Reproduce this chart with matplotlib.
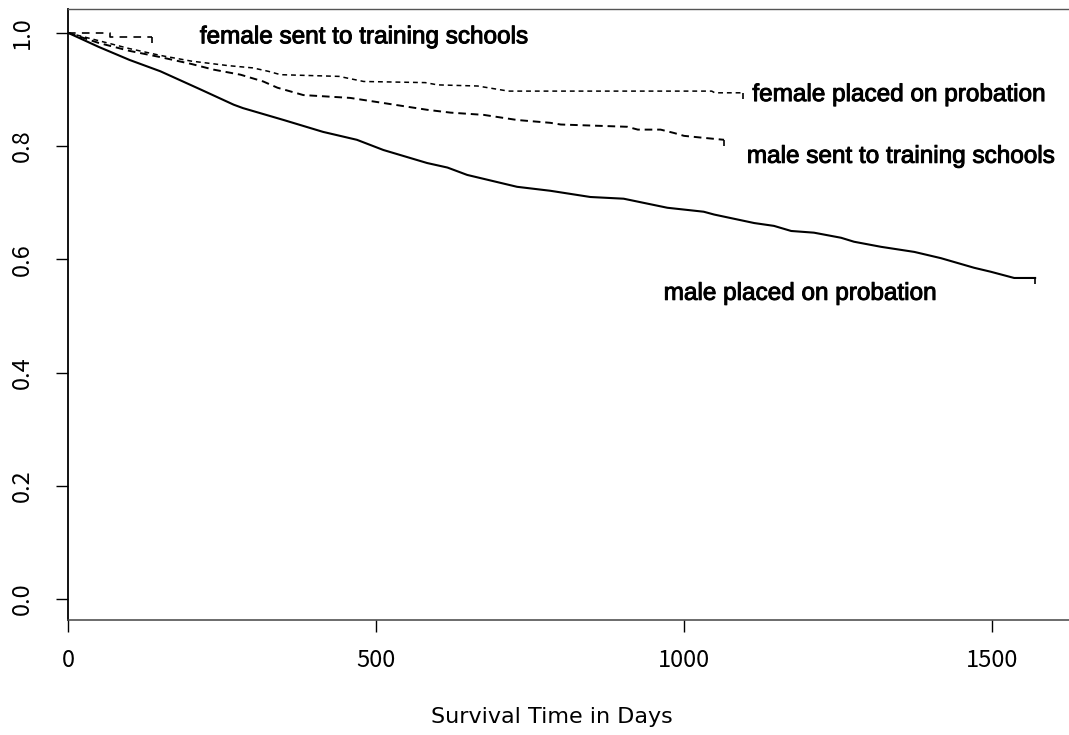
import matplotlib.pyplot as plt
import matplotlib.patheffects as pe

plt.rcParams['lines.scale_dashes'] = False

# Kaplan-Meier curves (days, survival proportion)
male_prob_days = [0, 50, 100, 150, 215, 269, 284, 350, 414, 469, 512, 583, 616, 648,
                  729, 783, 848, 902, 973, 1032, 1049, 1114, 1146, 1174, 1211, 1255,
                  1276, 1320, 1374, 1417, 1471, 1498, 1536, 1570]
male_prob_surv = [1.0, 0.975, 0.952, 0.932, 0.900, 0.873, 0.867, 0.846, 0.825, 0.811,
                  0.793, 0.770, 0.762, 0.749, 0.728, 0.721, 0.710, 0.707, 0.691, 0.684,
                  0.679, 0.664, 0.659, 0.650, 0.647, 0.638, 0.631, 0.622, 0.613, 0.602,
                  0.585, 0.578, 0.567, 0.567]

male_train_days = [0, 50, 100, 150, 200, 236, 280, 317, 340, 382, 458, 512, 583, 621,
                   675, 729, 783, 800, 908, 925, 962, 984, 1000, 1027, 1065]
male_train_surv = [1.0, 0.982, 0.968, 0.957, 0.945, 0.935, 0.926, 0.914, 0.903, 0.890,
                   0.885, 0.876, 0.864, 0.859, 0.855, 0.846, 0.841, 0.838, 0.834, 0.829,
                   0.829, 0.823, 0.818, 0.815, 0.811]

fem_prob_days = [0, 50, 100, 150, 200, 260, 300, 325, 345, 440, 480, 580, 600, 665,
                 715, 1045, 1050, 1095]
fem_prob_surv = [1.0, 0.986, 0.972, 0.960, 0.950, 0.942, 0.938, 0.932, 0.926, 0.923,
                 0.914, 0.912, 0.908, 0.906, 0.897, 0.897, 0.894, 0.894]

fem_train_days = [0, 68, 68, 136]
fem_train_surv = [1.0, 1.0, 0.992, 0.992]

labels = ['female sent to training schools', 'female placed on probation',
          'male sent to training schools', 'male placed on probation']

x_ticks = [0, 500, 1000, 1500]
y_ticks = [0.0, 0.2, 0.4, 0.6, 0.8, 1.0]

W, H = 1069, 735
fig = plt.figure(figsize=(W / 100, H / 100), dpi=100)
ax = fig.add_axes([68 / W, 1 - 620 / H, 1 - 68 / W, (620 - 9) / H])

tick_down = [(0, 0), (0, -1)]  # censor mark hanging below the curve end

ax.plot(male_prob_days, male_prob_surv, color='black', lw=1.5)
ax.plot(male_train_days, male_train_surv, color='black', lw=1.4, dashes=(5.5, 3.5))
ax.plot(fem_prob_days, fem_prob_surv, color='black', lw=1.1, dashes=(3.5, 2.8))
ax.plot(fem_train_days, fem_train_surv, color='black', lw=1.2, dashes=(5.5, 4.5))

for d, s in [(male_prob_days, male_prob_surv), (male_train_days, male_train_surv),
             (fem_prob_days, fem_prob_surv), (fem_train_days, fem_train_surv)]:
    ax.plot(d[-1], s[-1], marker=tick_down, ms=9, mew=1.2, color='black', ls='none')

thick = [pe.withStroke(linewidth=0.7, foreground='black')]
txt_font = dict(family='Liberation Sans', fontsize=17.5, color='black',
                va='center', ha='left', path_effects=thick)
ax.text(214, 0.992, labels[0], **txt_font)
ax.text(1111, 0.890, labels[1], **txt_font)
ax.text(1102, 0.781, labels[2], **txt_font)
ax.text(967, 0.539, labels[3], **txt_font)

ax.set_xlim(0, 1625)
ax.set_ylim(-0.037, 1.042)
ax.set_xticks(x_ticks)
ax.set_xticklabels([str(v) for v in x_ticks])
ax.set_yticks(y_ticks)
ax.set_yticklabels([f'{v:.1f}' for v in y_ticks])

tick_font = 'Noto Sans CJK JP'
ax.tick_params(axis='both', direction='out', length=8.6, width=1.0, color='black')
ax.tick_params(axis='x', pad=12, labelsize=17)
ax.tick_params(axis='y', pad=16, labelsize=17)
for lab in ax.get_xticklabels() + ax.get_yticklabels():
    lab.set_fontfamily(tick_font)
for lab in ax.get_yticklabels():
    lab.set_rotation(90)
    lab.set_va('center')

ax.spines['right'].set_visible(False)
ax.spines['left'].set_linewidth(1.3)
ax.spines['top'].set_color('#555555')
ax.spines['bottom'].set_color('#444444')
ax.spines['top'].set_linewidth(1.0)
ax.spines['bottom'].set_linewidth(1.1)

fig.text(552 / W, 1 - 717 / H, 'Survival Time in Days', family='DejaVu Sans',
         fontsize=16, ha='center', va='center')

fig.savefig('out.png', dpi=100)
